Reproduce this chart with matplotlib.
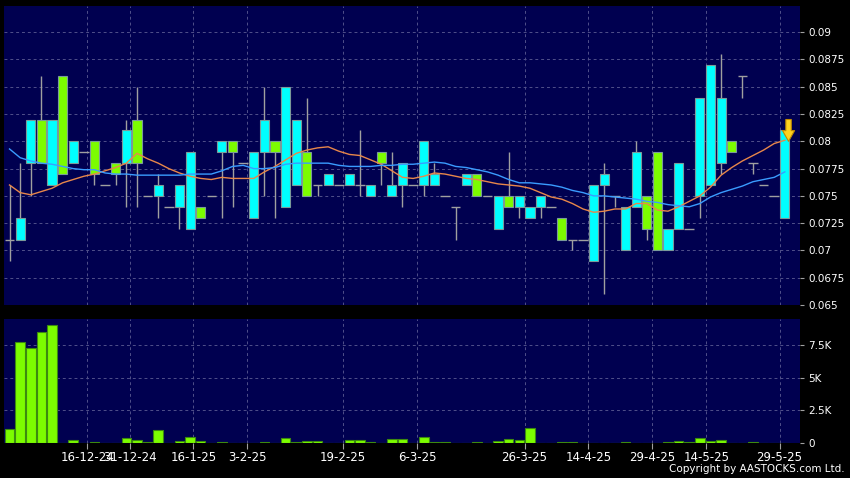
import numpy as np
import matplotlib
matplotlib.use('Agg')
import matplotlib.pyplot as plt

# candle data, one entry per trading session (oldest first)
opens = [0.071, 0.071, 0.078, 0.082, 0.076, 0.086, 0.078, 0.079, 0.080, 0.076,
         0.078, 0.078, 0.082, 0.075, 0.075, 0.074, 0.074, 0.072, 0.074, 0.075,
         0.079, 0.080, 0.078, 0.073, 0.079, 0.080, 0.074, 0.076, 0.079, 0.076,
         0.076, 0.076, 0.076, 0.076, 0.075, 0.079, 0.075, 0.076, 0.076, 0.076,
         0.076, 0.075, 0.074, 0.076, 0.077, 0.075, 0.072, 0.075, 0.074, 0.073,
         0.074, 0.074, 0.073, 0.071, 0.071, 0.069, 0.076, 0.075, 0.070, 0.074,
         0.075, 0.079, 0.070, 0.072, 0.072, 0.075, 0.076, 0.078, 0.080, 0.086,
         0.078, 0.076, 0.075, 0.073]
closes = [0.071, 0.073, 0.082, 0.078, 0.082, 0.077, 0.080, 0.079, 0.077, 0.076,
          0.077, 0.081, 0.078, 0.075, 0.076, 0.074, 0.076, 0.079, 0.073, 0.075,
          0.080, 0.079, 0.078, 0.079, 0.082, 0.079, 0.085, 0.082, 0.075, 0.076,
          0.077, 0.076, 0.077, 0.076, 0.076, 0.078, 0.076, 0.078, 0.076, 0.080,
          0.077, 0.075, 0.074, 0.077, 0.075, 0.075, 0.075, 0.074, 0.075, 0.074,
          0.075, 0.074, 0.071, 0.071, 0.071, 0.076, 0.077, 0.075, 0.074, 0.079,
          0.072, 0.070, 0.072, 0.078, 0.072, 0.084, 0.087, 0.084, 0.079, 0.086,
          0.078, 0.076, 0.075, 0.081]
highs = [0.076, 0.078, 0.082, 0.086, 0.082, 0.086, 0.080, 0.079, 0.080, 0.076,
         0.078, 0.082, 0.085, 0.075, 0.077, 0.074, 0.076, 0.079, 0.074, 0.075,
         0.080, 0.080, 0.078, 0.079, 0.085, 0.080, 0.085, 0.082, 0.084, 0.076,
         0.077, 0.076, 0.077, 0.081, 0.076, 0.079, 0.079, 0.078, 0.076, 0.080,
         0.078, 0.075, 0.074, 0.077, 0.077, 0.075, 0.075, 0.079, 0.075, 0.074,
         0.075, 0.074, 0.073, 0.071, 0.071, 0.076, 0.078, 0.075, 0.074, 0.080,
         0.075, 0.079, 0.072, 0.078, 0.072, 0.084, 0.087, 0.088, 0.080, 0.086,
         0.078, 0.076, 0.075, 0.081]
lows = [0.069, 0.071, 0.075, 0.078, 0.076, 0.077, 0.078, 0.079, 0.076, 0.076,
        0.076, 0.074, 0.074, 0.075, 0.073, 0.074, 0.072, 0.072, 0.073, 0.075,
        0.073, 0.074, 0.078, 0.073, 0.075, 0.073, 0.074, 0.076, 0.075, 0.075,
        0.076, 0.076, 0.076, 0.075, 0.075, 0.076, 0.075, 0.074, 0.076, 0.075,
        0.076, 0.075, 0.071, 0.076, 0.075, 0.075, 0.072, 0.074, 0.073, 0.073,
        0.073, 0.074, 0.071, 0.070, 0.071, 0.069, 0.066, 0.074, 0.070, 0.074,
        0.071, 0.070, 0.070, 0.072, 0.072, 0.073, 0.076, 0.077, 0.079, 0.084,
        0.077, 0.076, 0.075, 0.073]

# short and long moving averages
ma_short = [0.0760, 0.0753, 0.0751, 0.0754, 0.0757, 0.0762, 0.0765, 0.0768, 0.0770, 0.0773,
            0.0776, 0.0780, 0.0789, 0.0784, 0.0780, 0.0775, 0.0771, 0.0768, 0.0766, 0.0765,
            0.0767, 0.0766, 0.0766, 0.0766, 0.0772, 0.0777, 0.0783, 0.0789, 0.0792, 0.0794,
            0.0795, 0.0791, 0.0788, 0.0787, 0.0783, 0.0779, 0.0773, 0.0767, 0.0766, 0.0768,
            0.0771, 0.0770, 0.0768, 0.0766, 0.0765, 0.0763, 0.0761, 0.0760, 0.0759, 0.0757,
            0.0753, 0.0749, 0.0747, 0.0743, 0.0738, 0.0735, 0.0736, 0.0738, 0.0738, 0.0743,
            0.0743, 0.0737, 0.0736, 0.0740, 0.0745, 0.0750, 0.0758, 0.0769, 0.0776, 0.0782,
            0.0787, 0.0792, 0.0798, 0.0801]
ma_long = [0.0793, 0.0785, 0.0782, 0.0780, 0.0779, 0.0777, 0.0775, 0.0774, 0.0774, 0.0771,
           0.0770, 0.0770, 0.0769, 0.0769, 0.0769, 0.0769, 0.0769, 0.0770, 0.0770, 0.0770,
           0.0773, 0.0777, 0.0778, 0.0775, 0.0775, 0.0776, 0.0779, 0.0780, 0.0780, 0.0780,
           0.0780, 0.0778, 0.0777, 0.0777, 0.0777, 0.0778, 0.0778, 0.0779, 0.0779, 0.0780,
           0.0781, 0.0780, 0.0777, 0.0776, 0.0774, 0.0772, 0.0769, 0.0765, 0.0762, 0.0762,
           0.0761, 0.0760, 0.0758, 0.0755, 0.0753, 0.0750, 0.0750, 0.0749, 0.0748, 0.0747,
           0.0745, 0.0744, 0.0742, 0.0741, 0.0740, 0.0743, 0.0749, 0.0753, 0.0756, 0.0759,
           0.0763, 0.0765, 0.0767, 0.0772]

# volume in shares
volumes = [1090, 7710, 7250, 8500, 9030, 0, 230, 0, 80, 0,
           30, 380, 250, 80, 1000, 0, 150, 430, 130, 0,
           80, 20, 0, 0, 80, 0, 410, 80, 130, 130,
           0, 30, 230, 250, 80, 0, 300, 280, 0, 430,
           80, 100, 0, 0, 80, 0, 180, 330, 230, 1150,
           0, 0, 80, 100, 0, 0, 0, 0, 60, 0,
           0, 0, 100, 130, 50, 360, 180, 230, 0, 0,
           80, 0, 0, 30]

date_labels = ['16-12-24', '31-12-24', '16-1-25', '3-2-25', '19-2-25', '6-3-25',
               '26-3-25', '14-4-25', '29-4-25', '14-5-25', '29-5-25']
date_pos = [7.3, 11.3, 17.3, 22.4, 31.4, 38.4, 48.5, 54.5, 60.5, 65.6, 72.5]

price_ticks = [0.065, 0.0675, 0.07, 0.0725, 0.075, 0.0775, 0.08, 0.0825, 0.085, 0.0875, 0.09]
vol_ticks = [0, 2500, 5000, 7500]
vol_tick_labels = ['0', '2.5K', '5K', '7.5K']

bg = '#000050'
grid_col = '#50508a'
up_col = '#00ffff'
down_col = '#7cfc00'

fig = plt.figure(figsize=(8.5, 4.78), dpi=100, facecolor='black')
ax = fig.add_axes([0.0047, 0.3619, 0.9365, 0.6255], facecolor=bg)
axv = fig.add_axes([0.0047, 0.0732, 0.9365, 0.2594], facecolor=bg, sharex=ax)

x = np.arange(len(opens))
o = np.array(opens)
c = np.array(closes)
h = np.array(highs)
l = np.array(lows)

# wicks
ax.vlines(x, l, h, color='#a0a0a0', lw=1, zorder=2)

# bodies
is_doji = o == c
body = ~is_doji
cols = np.where(c > o, up_col, down_col)
ax.bar(x[body], np.abs(c - o)[body], bottom=np.minimum(o, c)[body], width=0.86,
       color=cols[body], edgecolor='#7a9a9a', linewidth=0.8, zorder=3)
# no-change sessions as a short dash
ax.hlines(o[is_doji], x[is_doji] - 0.45, x[is_doji] + 0.45, color='#a0a0a0', lw=1, zorder=3)

# moving averages
ax.plot(x, ma_short, color='#e8874a', lw=1, zorder=4)
ax.plot(x, ma_long, color='#3a9cff', lw=1, zorder=4)

# latest price marker
ax.annotate('', xy=(73.35, 0.0800), xytext=(73.35, 0.0820),
            arrowprops=dict(arrowstyle='simple,head_length=0.55,head_width=0.62,tail_width=0.28',
                            mutation_scale=14, fc='#ffd21f', ec='#c08a00', lw=0.8,
                            shrinkA=0, shrinkB=0), zorder=6)

ax.set_xlim(-0.52, 74.43)
ax.set_ylim(0.065, 0.0924)
ax.set_yticks(price_ticks)
ax.set_yticklabels(['%g' % t for t in price_ticks])
ax.yaxis.tick_right()
ax.tick_params(axis='y', colors='#a0a0a0', labelcolor='white', labelsize=7.5, length=3, pad=3)
ax.tick_params(axis='x', bottom=False, labelbottom=False)
ax.set_xticks(date_pos)
ax.grid(True, color=grid_col, linestyle=(0, (3, 3)), lw=0.7)
ax.set_axisbelow(True)

# volume panel
axv.bar(x, volumes, width=0.9, color=down_col, edgecolor='#3c8a10', linewidth=0.8, zorder=3)
axv.set_ylim(0, 9480)
axv.set_yticks(vol_ticks)
axv.set_yticklabels(vol_tick_labels)
axv.yaxis.tick_right()
axv.tick_params(axis='y', colors='#a0a0a0', labelcolor='white', labelsize=7.5, length=3, pad=3)
axv.set_xticks(date_pos)
axv.set_xticklabels(date_labels)
axv.tick_params(axis='x', colors='#a0a0a0', labelcolor='white', labelsize=8.5, length=4, pad=2)
axv.grid(True, color=grid_col, linestyle=(0, (3, 3)), lw=0.7)
axv.set_axisbelow(True)

for a in (ax, axv):
    for s in a.spines.values():
        s.set_visible(False)

fig.text(0.994, 0.008, 'Copyright by AASTOCKS.com Ltd.', color='white', fontsize=7.5,
         ha='right', va='bottom')

fig.savefig('out.png', dpi=100, facecolor='black')
